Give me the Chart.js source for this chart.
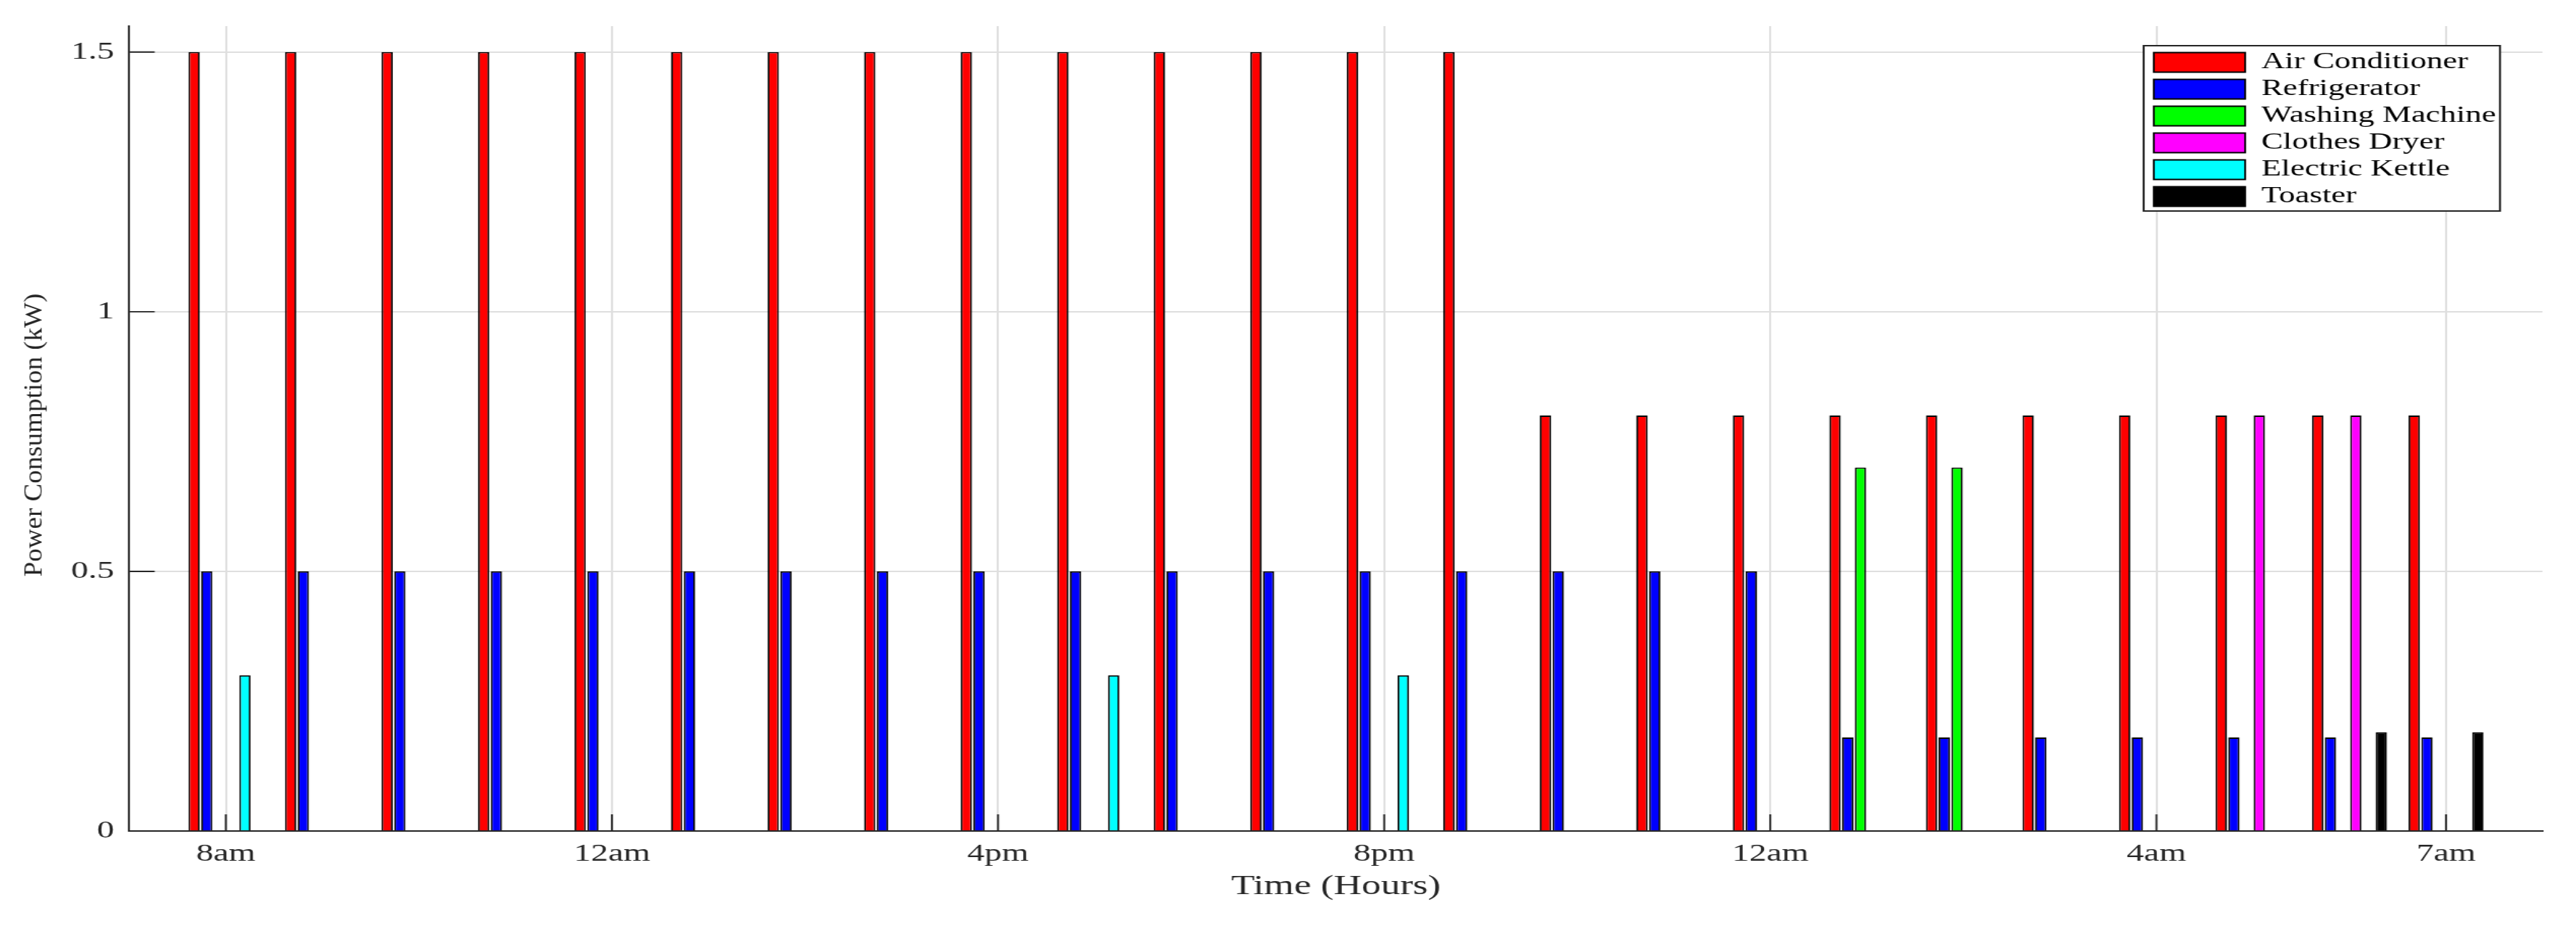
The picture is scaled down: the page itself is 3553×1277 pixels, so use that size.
<!DOCTYPE html>
<html>
<head>
<meta charset="utf-8">
<title>Power Consumption by Appliance</title>
<script src="https://cdn.jsdelivr.net/npm/chart.js@4.4.1/dist/chart.umd.min.js"></script>
<style>
  html, body { margin: 0; padding: 0; background: #fff; overflow: hidden; }
  /* the source figure is stretched sideways, so the whole canvas is too */
  #wrap { width: 2538px; height: 1277px; transform: scaleX(1.39992); transform-origin: 0 0; }
</style>
</head>
<body>
<div id="wrap"><canvas id="powerChart" width="2538" height="1277"></canvas></div>
<script>
// hourly slots from 8am to 7am next morning (noon is labelled "12am" in the source)
const hours = ['8am', '9am', '10am', '11am', '12am', '1pm', '2pm', '3pm', '4pm', '5pm', '6pm', '7pm',
               '8pm', '9pm', '10pm', '11pm', '12am', '1am', '2am', '3am', '4am', '5am', '6am', '7am']
const tickHours = [0, 4, 8, 12, 16, 20, 23]
const yTicks = [0, 0.5, 1, 1.5]

const airConditioner = [1.5, 1.5, 1.5, 1.5, 1.5, 1.5, 1.5, 1.5, 1.5, 1.5, 1.5, 1.5,
                        1.5, 1.5, 0.8, 0.8, 0.8, 0.8, 0.8, 0.8, 0.8, 0.8, 0.8, 0.8]
const refrigerator   = [0.5, 0.5, 0.5, 0.5, 0.5, 0.5, 0.5, 0.5, 0.5, 0.5, 0.5, 0.5,
                        0.5, 0.5, 0.5, 0.5, 0.5, 0.18, 0.18, 0.18, 0.18, 0.18, 0.18, 0.18]
const washingMachine = [0, 0, 0, 0, 0, 0, 0, 0, 0, 0, 0, 0,
                        0, 0, 0, 0, 0, 0.7, 0.7, 0, 0, 0, 0, 0]
const clothesDryer   = [0, 0, 0, 0, 0, 0, 0, 0, 0, 0, 0, 0,
                        0, 0, 0, 0, 0, 0, 0, 0, 0, 0.8, 0.8, 0]
const electricKettle = [0.3, 0, 0, 0, 0, 0, 0, 0, 0, 0.3, 0, 0,
                        0.3, 0, 0, 0, 0, 0, 0, 0, 0, 0, 0, 0]
const toaster        = [0, 0, 0, 0, 0, 0, 0, 0, 0, 0, 0, 0,
                        0, 0, 0, 0, 0, 0, 0, 0, 0, 0, 0.19, 0.19]

const seriesNames  = ['Air Conditioner', 'Refrigerator', 'Washing Machine', 'Clothes Dryer', 'Electric Kettle', 'Toaster']
const seriesColors = ['#ff0000', '#0000ff', '#00ff00', '#ff00ff', '#00ffff', '#000000']
const seriesValues = [airConditioner, refrigerator, washingMachine, clothesDryer, electricKettle, toaster]

const serif = "'Liberation Serif', 'Times New Roman', serif"
const axisColor = '#262626'
const gridColor = '#dfdfdf'

// MATLAB style: ticks point inwards, legend boxed in the top right corner, y label drawn narrow
const axisDecor = {
  id: 'axisDecor',
  afterLayout(chart) {
    const lg = chart.legend
    lg.left = chart.chartArea.right - 388
    lg.top = 65
    lg.right = lg.left + lg.width
    lg.bottom = lg.top + lg.height
  },
  afterDatasetsDraw(chart) {
    const { ctx, chartArea: area, scales: { x, y } } = chart
    ctx.save()
    ctx.strokeStyle = axisColor
    ctx.lineWidth = 1.9
    ctx.beginPath()
    x.ticks.forEach(t => {
      const px = x.getPixelForValue(t.value)
      ctx.moveTo(px, area.bottom)
      ctx.lineTo(px, area.bottom - 23)
    })
    y.ticks.forEach(t => {
      const py = y.getPixelForValue(t.value)
      ctx.moveTo(area.left, py)
      ctx.lineTo(area.left + 25, py)
    })
    ctx.stroke()

    // legend lies over the grid: white box first, then draw it again on top
    const lg = chart.legend
    const bx = lg.left - 5, by = lg.top - 2, bw = lg.width - 1, bh = 228
    ctx.fillStyle = '#ffffff'
    ctx.fillRect(bx, by, bw, bh)
    ctx.lineWidth = 2
    ctx.strokeRect(bx, by, bw, bh)
    ctx.restore()
    lg.draw()
  },
  afterDraw(chart) {
    const { ctx, chartArea: area } = chart
    ctx.save()
    ctx.translate(34.6, (area.top + area.bottom) / 2 + 9)
    ctx.scale(0.66, 1)
    ctx.rotate(-Math.PI / 2)
    ctx.font = '37px ' + serif
    ctx.fillStyle = axisColor
    ctx.textAlign = 'center'
    ctx.textBaseline = 'middle'
    ctx.fillText('Power Consumption (kW)', 0, 0)
    ctx.restore()
  }
}

const ctx = document.getElementById('powerChart')

new Chart(ctx, {
  type: 'bar',
  data: {
    datasets: seriesNames.map((name, k) => ({
      label: name,
      data: seriesValues[k].map((v, i) => ({ x: i, y: v })),
      backgroundColor: seriesColors[k],
      borderColor: '#000000',
      borderWidth: 1.8,
      categoryPercentage: 0.79,
      barPercentage: 0.89
    }))
  },
  options: {
    responsive: false,
    animation: false,
    devicePixelRatio: 1,
    events: [],
    layout: { padding: { top: 36, right: 33, bottom: 0, left: 0 } },
    plugins: {
      tooltip: { enabled: false },
      legend: {
        position: 'chartArea',
        align: 'start',
        labels: {
          boxWidth: 90,
          boxHeight: 27,
          padding: 5,
          color: '#000000',
          font: { family: serif, size: 32 }
        }
      }
    },
    scales: {
      x: {
        type: 'linear',
        min: -1,
        max: 24,
        offset: false,
        afterBuildTicks: s => { s.ticks = tickHours.map(v => ({ value: v })) },
        afterFit: s => { s.height = 131 },
        grid: { offset: false, color: gridColor, lineWidth: 2, drawTicks: false },
        border: { color: axisColor, width: 2 },
        ticks: {
          autoSkip: false,
          maxRotation: 0,
          padding: 12,
          color: axisColor,
          font: { family: serif, size: 34 },
          callback: (v, i) => hours[tickHours[i]]
        },
        title: {
          display: true,
          text: 'Time (Hours)',
          color: axisColor,
          font: { family: serif, size: 38 },
          padding: { top: 0, bottom: 31 }
        }
      },
      y: {
        min: 0,
        max: 1.55,
        afterBuildTicks: s => { s.ticks = yTicks.map(v => ({ value: v })) },
        afterFit: s => { s.width = 127.4 },
        grid: { color: gridColor, lineWidth: 2, drawTicks: false },
        border: { color: axisColor, width: 1.9 },
        ticks: {
          padding: 15,
          color: axisColor,
          font: { family: serif, size: 34 },
          callback: v => String(v)
        }
      }
    }
  },
  plugins: [axisDecor]
})
</script>
</body>
</html>
